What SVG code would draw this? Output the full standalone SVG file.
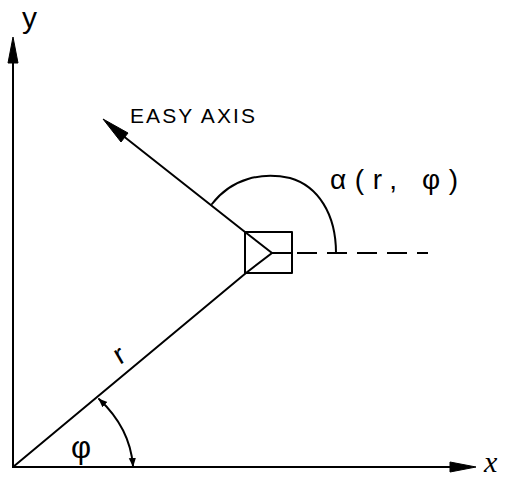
<svg xmlns="http://www.w3.org/2000/svg" width="515" height="481" viewBox="0 0 515 481">
<style>
.ln{stroke:#000;stroke-width:2;fill:none;stroke-linecap:round;stroke-linejoin:round}
.dash{stroke:#000;stroke-width:2;fill:none;stroke-dasharray:20 10}
.t{font-family:"Liberation Sans",Arial,sans-serif;fill:#000}
.ah{fill:#000;stroke:#000;stroke-width:1}
</style>
<defs>
<marker id="sm" viewBox="0 0 10 10" refX="9" refY="5" markerWidth="9" markerHeight="9" markerUnits="userSpaceOnUse" orient="auto-start-reverse">
<path d="M0,1 L10,5 L0,9 Z" fill="#000"/>
</marker>
</defs>
<g id="connectors">
<line class="ln" x1="13" y1="467" x2="13" y2="60"/>
<path class="ah" d="M13,37 L18,63 L8,63 Z"/>
<line class="ln" x1="13" y1="467" x2="452" y2="467"/>
<path class="ah" d="M476,467 L450,462 L450,472 Z"/>
<line class="ln" x1="13" y1="467" x2="246" y2="273"/>
<line class="ln" x1="245" y1="232" x2="122" y2="135"/>
<path class="ah" d="M103,119 L128,133 L121,142 Z"/>
<line class="dash" x1="297" y1="253" x2="428" y2="253"/>
<path class="ln" d="M212,204 C232,178 262,172 290,178 C318,186 336,214 336,253"/>
<line class="ln" x1="328" y1="253" x2="345" y2="253"/>
<path class="ln" d="M99,399 Q130,428 133,466" marker-start="url(#sm)" marker-end="url(#sm)"/>
</g>
<g id="node-box">
<rect class="ln" x="245" y="232" width="47" height="41"/>
<path class="ln" d="M245,232 L272,253 L246,273 M272,253 L292,253"/>
</g>
<g id="labels">
<text class="t" x="22" y="28" font-size="30">y</text>
<text x="484" y="472" font-family="Liberation Serif,serif" font-style="italic" font-size="30">x</text>
<text class="t" x="130" y="123" font-size="21" textLength="125" lengthAdjust="spacing">EASY AXIS</text>
<text class="t" x="330" y="189" font-size="28" textLength="128" lengthAdjust="spacing">α(r, φ)</text>
<text class="t" x="115" y="363" font-size="28" transform="rotate(-30 121 355)">r</text>
<text class="t" x="71" y="458" font-size="31">φ</text>
</g>
</svg>
